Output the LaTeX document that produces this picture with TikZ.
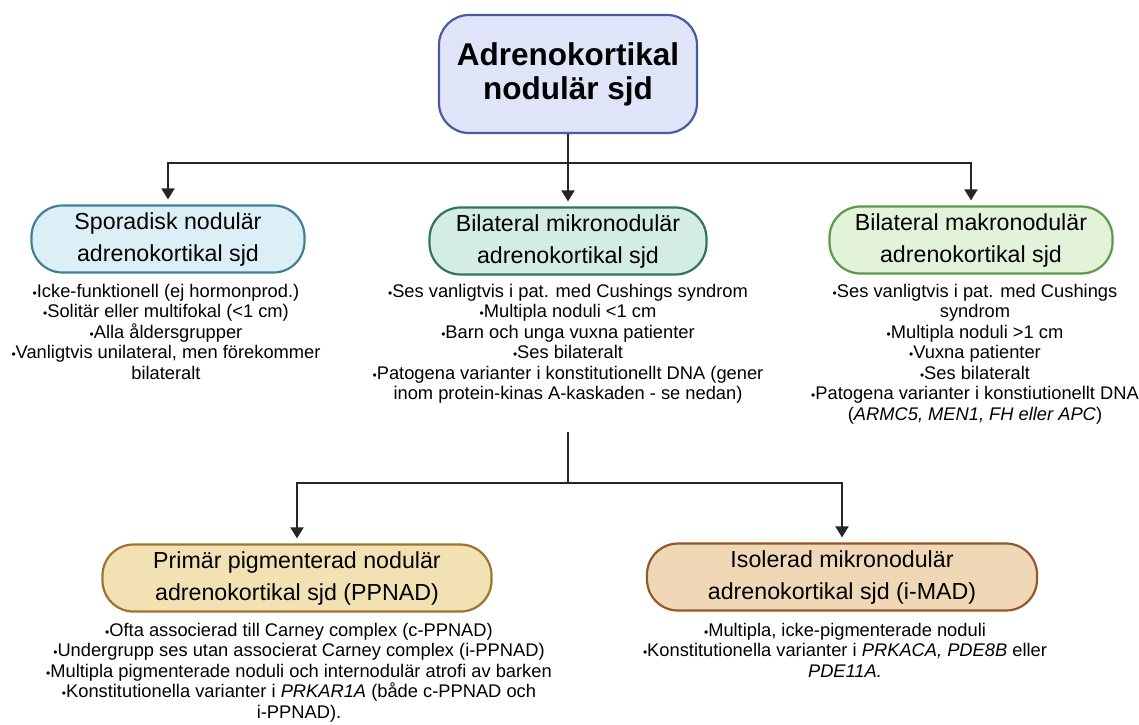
\documentclass[tikz,border=0pt]{standalone}
\usepackage{fontspec}
\setmainfont{Liberation Sans}
\usetikzlibrary{arrows.meta}
\definecolor{topfill}{HTML}{DFE4F8}
\definecolor{topline}{HTML}{4A5AA0}
\definecolor{spofill}{HTML}{DDEFF6}
\definecolor{spoline}{HTML}{3F8099}
\definecolor{mikfill}{HTML}{D3ECE6}
\definecolor{mikline}{HTML}{2E7560}
\definecolor{makfill}{HTML}{E3F3DA}
\definecolor{makline}{HTML}{5A9A48}
\definecolor{ppnfill}{HTML}{F2E2B3}
\definecolor{ppnline}{HTML}{9C7430}
\definecolor{madfill}{HTML}{F0D8B6}
\definecolor{madline}{HTML}{93582A}
\newcommand{\blt}{{\fontsize{12}{12}\selectfont\textbullet}}
\begin{document}
\begin{tikzpicture}[x=1pt,y=-1pt,font=\fontsize{18.3}{20.5}\selectfont, >={Triangle[width=13pt,length=11pt]}]
      \tikzstyle{box}=[rectangle,rounded corners=31pt,draw,line width=2.2pt,align=center,inner sep=0pt,minimum height=67pt,font=\fontsize{23.2}{32}\selectfont]
      \tikzstyle{info}=[align=center,anchor=north,inner sep=0pt]
      \tikzstyle{link}=[draw=black!85,line width=2pt]
      \useasboundingbox (0,0) rectangle (1139,724);

      % top
      \node(0)[box,rounded corners=30pt,minimum width=258pt,minimum height=118pt,fill=topfill,draw=topline,font=\bfseries\fontsize{31.5}{34}\selectfont] at (568,74) {Adrenokortikal\\nodulär sjd};

      % second row
      \node(1)[box,minimum width=273pt,fill=spofill,draw=spoline] at (168,239) {Sporadisk nodulär\\adrenokortikal sjd};
      \node(2)[box,minimum width=277pt,fill=mikfill,draw=mikline] at (568,241) {Bilateral mikronodulär\\adrenokortikal sjd};
      \node(3)[box,minimum width=283pt,fill=makfill,draw=makline] at (971,240) {Bilateral makronodulär\\adrenokortikal sjd};

      \node(1t)[info] at (166,284) {\blt Icke-funktionell (ej hormonprod.)\\
        \blt Solitär eller multifokal (<1 cm)\\
        \blt Alla åldersgrupper\\
        \blt Vanligtvis unilateral, men förekommer\\
        bilateralt};
      \node(2t)[info] at (568,284) {\blt Ses vanligtvis i pat. med Cushings syndrom\\
        \blt Multipla noduli <1 cm\\
        \blt Barn och unga vuxna patienter\\
        \blt Ses bilateralt\\
        \blt Patogena varianter i konstitutionellt DNA (gener\\
        inom protein-kinas A-kaskaden - se nedan)};
      \node(3t)[info] at (975,284) {\blt Ses vanligtvis i pat. med Cushings\\
        syndrom\\
        \blt Multipla noduli >1 cm\\
        \blt Vuxna patienter\\
        \blt Ses bilateralt\\
        \blt Patogena varianter i konstiutionellt DNA\\
        (\textit{ARMC5, MEN1, FH eller APC})};

      % third row
      \node(4)[box,minimum width=389pt,fill=ppnfill,draw=ppnline] at (297,578) {Primär pigmenterad nodulär\\adrenokortikal sjd (PPNAD)};
      \node(5)[box,minimum width=390pt,fill=madfill,draw=madline] at (842,577) {Isolerad mikronodulär\\adrenokortikal sjd (i-MAD)};

      \node(4t)[info] at (299,623) {\blt Ofta associerad till Carney complex (c-PPNAD)\\
        \blt Undergrupp ses utan associerat Carney complex (i-PPNAD)\\
        \blt Multipla pigmenterade noduli och internodulär atrofi av barken\\
        \blt Konstitutionella varianter i \textit{PRKAR1A} (både c-PPNAD och\\
        i-PPNAD).};
      \node(5t)[info] at (845,623) {\blt Multipla, icke-pigmenterade noduli\\
        \blt Konstitutionella varianter i \textit{PRKACA, PDE8B} eller\\
        \textit{PDE11A.}};

      % connectors
      \coordinate (j0) at (568,163);
      \coordinate (s2) at (568,432);
      \coordinate (j1) at (568,483);
      \draw[link] (0.south) -- (j0);
      \draw[link,->,shorten >=5pt] (j0) -| (1.north);
      \draw[link,->,shorten >=5pt] (j0) -- (2.north);
      \draw[link,->,shorten >=5pt] (j0) -| (3.north);
      \draw[link] (s2) -- (j1);
      \draw[link,->,shorten >=5pt] (j1) -| (4.north);
      \draw[link,->,shorten >=5pt] (j1) -| (5.north);
\end{tikzpicture}
\end{document}
